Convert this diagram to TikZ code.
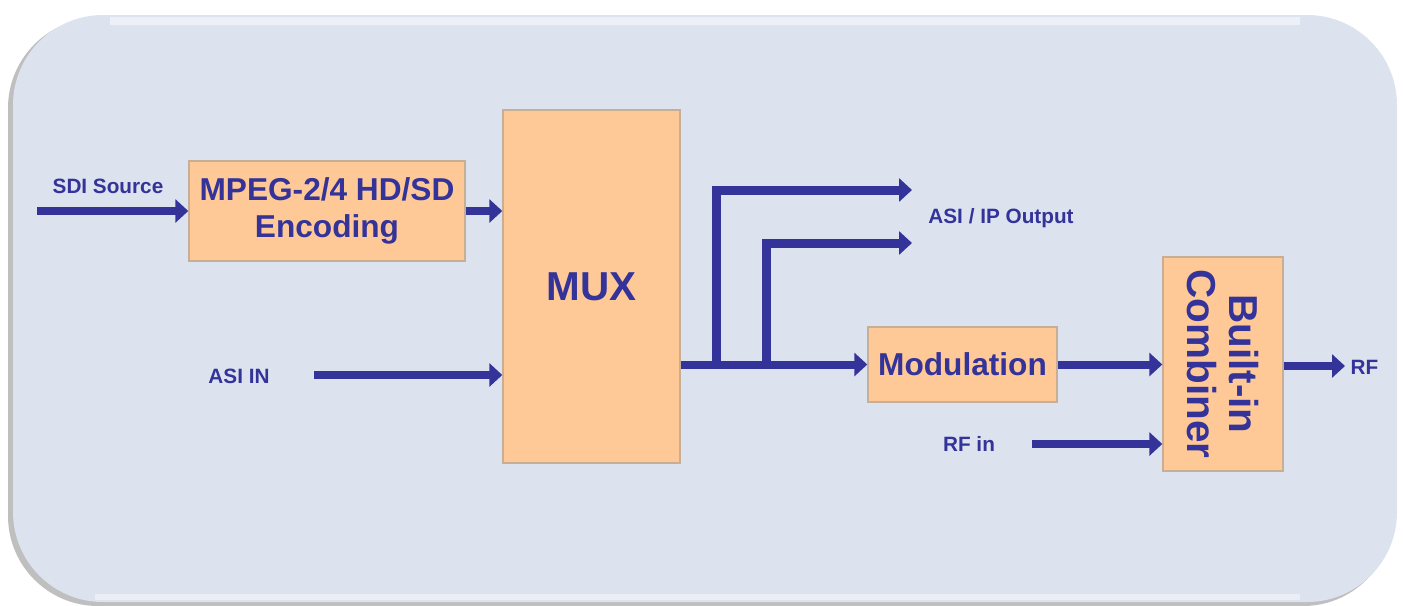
\documentclass[tikz,border=0pt]{standalone}
\usepackage{fontspec}
\setmainfont{Liberation Sans}
\usetikzlibrary{arrows.meta}
\definecolor{ink}{HTML}{333399}
\definecolor{boxfill}{HTML}{FFC997}
\definecolor{boxline}{HTML}{C9AE96}
\definecolor{panel}{HTML}{DCE2EE}
\tikzset{
  block/.style={draw=boxline, line width=0.4pt, fill=boxfill, text=ink, inner sep=0pt, align=center},
  sig/.style={draw=ink, line width=0.08cm, -{Triangle[length=0.13cm,width=0.23cm]}},
  lbl/.style={text=ink, font=\bfseries\fontsize{5.9}{7}\selectfont, inner sep=0pt},
}
\begin{document}
\begin{tikzpicture}
\useasboundingbox (0,0) rectangle (14.03,6.05);
% panel with its shadow
\fill [black!25, rounded corners=0.9cm] (0.08,-0.01) rectangle (13.93,5.87);
\fill [panel, rounded corners=0.9cm] (0.13,0.03) rectangle (13.97,5.90);
\draw [white, opacity=0.5, line width=0.08cm] (1.1,5.84) -- (13.0,5.84);
\draw [white, opacity=0.45, line width=0.06cm] (0.95,0.08) -- (13.0,0.08);

% blocks
\node [block, minimum width=2.76cm, minimum height=1.00cm, font=\bfseries\fontsize{9}{10.6}\selectfont] (enc) at (3.27,3.94) {MPEG-2/4 HD/SD\\Encoding};
\node [block, minimum width=1.77cm, minimum height=3.53cm, font=\bfseries\fontsize{11.5}{13}\selectfont] (mux) at (5.915,3.185) {MUX};
\node [block, minimum width=1.89cm, minimum height=0.75cm, font=\bfseries\fontsize{9}{10}\selectfont] (mod) at (9.625,2.405) {Modulation};
\node [block, minimum width=1.20cm, minimum height=2.14cm] (comb) at (12.23,2.41) {};
\node [text=ink, font=\bfseries\fontsize{11.5}{12}\selectfont, align=center, rotate=-90, inner sep=0pt] (combtxt) at (comb.center) {Built-in\\Combiner};

% labels
\node [lbl] (sdilbl) at (1.08,4.19) {SDI Source};
\node [lbl] (asiinlbl) at (2.39,2.29) {ASI IN};
\node [lbl] (asioutlbl) at (10.01,3.87) {ASI / IP Output};
\node [lbl] (rfinlbl) at (9.69,1.61) {RF in};
\node [lbl, anchor=west] (rflbl) at (13.50,2.38) {RF};

% free ends
\coordinate (sdi) at (0.37,3.94);
\coordinate (asiin) at (3.14,2.30);
\coordinate (tap1) at (7.16,2.40);
\coordinate (tap2) at (7.66,2.40);
\coordinate (out1) at (9.12,4.15);
\coordinate (out2) at (9.12,3.62);
\coordinate (rfin) at (10.32,1.61);
\coordinate (rfout) at (13.45,2.39);

% connectors
\draw [sig] (sdi) -- (enc.west);
\draw [sig] (enc.east) -- (enc.east -| mux.west);
\draw [sig] (asiin) -- (asiin -| mux.west);
\draw [sig] (mux.east |- mod.west) -- (mod.west);
\draw [sig, line width=0.09cm] (tap1) |- (out1);
\draw [sig, line width=0.09cm] (tap2) |- (out2);
\draw [sig] (mod.east) -- (mod.east -| comb.west);
\draw [sig] (rfin) -- (rfin -| comb.west);
\draw [sig] (comb.east |- rfout) -- (rfout);
\end{tikzpicture}
\end{document}
